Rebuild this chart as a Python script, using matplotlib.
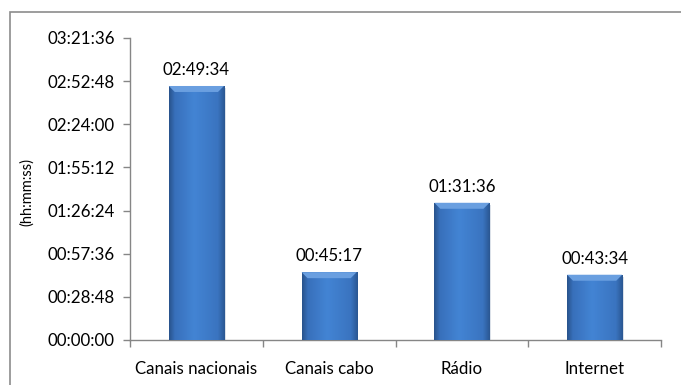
import matplotlib.pyplot as plt
import numpy as np
from matplotlib.patches import Rectangle, Polygon
from matplotlib.colors import LinearSegmentedColormap

plt.rcParams['font.family'] = ['Lato', 'DejaVu Sans']

categorias = ['Canais nacionais', 'Canais cabo', 'Rádio', 'Internet']
rotulos = ['02:49:34', '00:45:17', '01:31:36', '00:43:34']
ticks_y = ['00:00:00', '00:28:48', '00:57:36', '01:26:24', '01:55:12',
           '02:24:00', '02:52:48', '03:21:36']


def segundos(t):
    h, m, s = [int(p) for p in t.split(':')]
    return h * 3600 + m * 60 + s


valores = [segundos(r) for r in rotulos]
pos_ticks = [segundos(t) for t in ticks_y]

fig = plt.figure(figsize=(6.81, 3.85), dpi=100)
# moldura do gráfico
fig.patches.append(Rectangle((10 / 681, -0.05), 1.0, (385 - 12) / 385 + 0.05,
                             transform=fig.transFigure, fill=False,
                             edgecolor='#8c8c8c', linewidth=1.2))

ax = fig.add_axes([130 / 681, 45 / 385, 531 / 681, 302 / 385])
ymax = pos_ticks[-1]
ax.set_xlim(-0.5, 3.5)
ax.set_ylim(0, ymax)

largura = 0.415
cmap = LinearSegmentedColormap.from_list('azul', [
    (0.0, '#29548e'), (0.1, '#3870bb'), (0.45, '#4384d4'),
    (0.88, '#3a74c0'), (1.0, '#2b5894')])
grad = np.linspace(0, 1, 64).reshape(1, -1)

bx = 0.045           # largura do chanfro (dados)
by = ymax * 6 / 302  # altura do chanfro (dados)
fs = 12.2

for i, v in enumerate(valores):
    x0 = i - largura / 2
    x1 = i + largura / 2
    # sombra
    ax.add_patch(Rectangle((x0 + 0.012, 0), largura, v - by * 0.3,
                           facecolor='#b8c4d4', edgecolor='none', alpha=0.5, zorder=1))
    barra = ax.bar(i, v, largura, color='#3c7ccf', edgecolor='none', zorder=2)[0]
    im = ax.imshow(grad, cmap=cmap, aspect='auto', extent=(x0, x1, 0, v), zorder=3)
    im.set_clip_path(barra)
    # chanfro superior
    ax.add_patch(Polygon([(x0, v), (x1, v), (x1 - bx, v - by), (x0 + bx, v - by)],
                         closed=True, facecolor='#6a9fe0', edgecolor='none', zorder=4))
    ax.text(i, v + ymax * 8 / 302, rotulos[i], ha='center', va='bottom',
            fontsize=fs, color='black')

ax.set_yticks(pos_ticks)
ax.set_yticklabels(ticks_y, fontsize=fs)
ax.set_xticks(range(len(categorias)))
ax.set_xticklabels(categorias, fontsize=fs)
ax.set_xticks(np.arange(-0.5, 4, 1), minor=True)
ax.tick_params(axis='x', which='major', length=0, pad=15)
ax.tick_params(axis='x', which='minor', length=5, color='#868686', width=1)
ax.tick_params(axis='y', length=5, color='#868686', width=1, pad=6)

for lado in ['top', 'right']:
    ax.spines[lado].set_visible(False)
for lado in ['left', 'bottom']:
    ax.spines[lado].set_color('#868686')
    ax.spines[lado].set_linewidth(1)

fig.text(27 / 681, 1 - 192 / 385, '(hh:mm:ss)', rotation=90, ha='center',
         va='center', fontsize=10.5)

fig.savefig('out.png', dpi=100)
